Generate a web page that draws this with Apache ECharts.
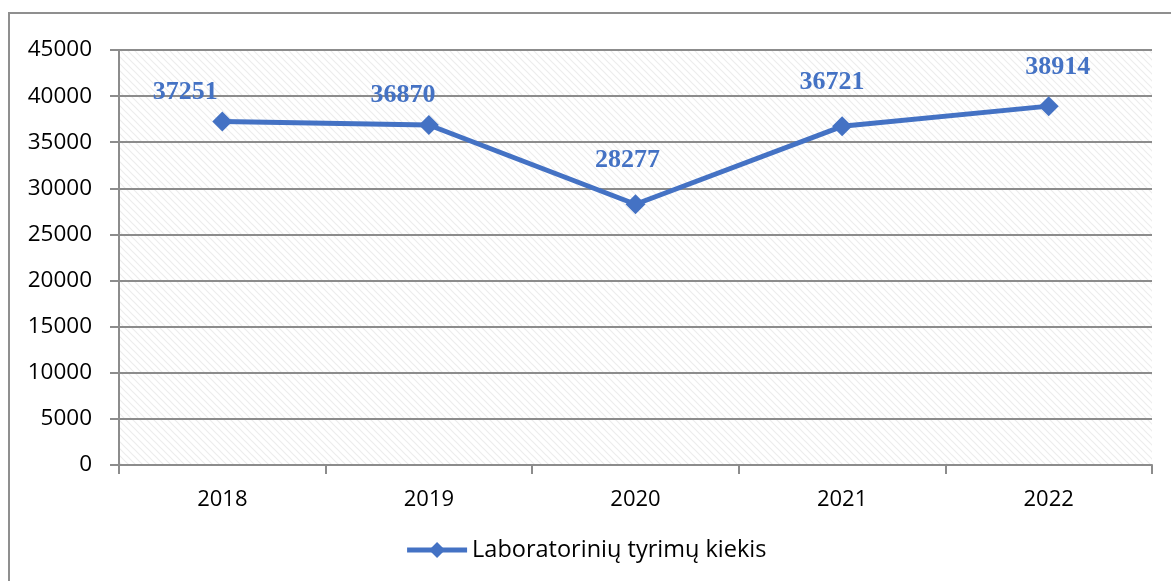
<!DOCTYPE html>
<html>
<head>
<meta charset="utf-8">
<script src="https://cdn.jsdelivr.net/npm/echarts@6/dist/echarts.min.js"></script>
<style>
  html, body { margin: 0; padding: 0; background: #fff; }
  #chart { width: 1171px; height: 581px; }
</style>
</head>
<body>
<div id="chart"></div>
<script>
// data
const years = ['2018', '2019', '2020', '2021', '2022'];
const values = [37251, 36870, 28277, 36721, 38914];
const seriesName = 'Laboratorinių tyrimų kiekis';
// hand placed label offsets (as in the original spreadsheet chart)
const labelOffsets = [[-37, -29], [-26, -30], [-8, -44], [-10, -44], [9, -39]];

const blue = '#4472C4';
const gray = '#8c8c8c';

// light diagonal hatch for the plot area
function hatch() {
  const c = document.createElement('canvas');
  c.width = 7; c.height = 7;
  const g = c.getContext('2d');
  g.fillStyle = '#ffffff';
  g.fillRect(0, 0, 7, 7);
  g.strokeStyle = '#ededed';
  g.lineWidth = 1.2;
  g.beginPath();
  g.moveTo(-2, -2); g.lineTo(9, 9);
  g.moveTo(-2, 5); g.lineTo(2, 9);
  g.moveTo(5, -2); g.lineTo(9, 2);
  g.stroke();
  return c;
}

let myChart = echarts.init(document.getElementById('chart'));
let option = {
  animation: false,
  backgroundColor: '#fff',
  graphic: [{
    type: 'rect',
    shape: { x: 9, y: 13, width: 1200, height: 620 },
    style: { fill: 'none', stroke: '#8f8f8f', lineWidth: 2 },
    silent: true
  }],
  grid: {
    left: 119, top: 50, right: 19, bottom: 116,
    show: true,
    borderWidth: 0,
    backgroundColor: { image: hatch(), repeat: 'repeat' }
  },
  legend: {
    bottom: 14,
    left: 'center',
    itemWidth: 60,
    itemHeight: 20,
    itemGap: 4,
    lineStyle: { width: 5 },
    textStyle: { fontFamily: 'Open Sans', fontSize: 23.5, color: '#000' },
    data: [seriesName]
  },
  xAxis: {
    type: 'category',
    data: years,
    boundaryGap: true,
    axisLine: { lineStyle: { color: gray, width: 2 } },
    axisTick: { show: true, length: 9, interval: 0, lineStyle: { color: gray, width: 2 } },
    axisLabel: { fontFamily: 'Open Sans', fontSize: 22, color: '#000', margin: 24 }
  },
  yAxis: {
    type: 'value',
    min: 0, max: 45000, interval: 5000,
    axisLine: { show: true, lineStyle: { color: gray, width: 2 } },
    axisTick: { show: true, length: 9, lineStyle: { color: gray, width: 2 } },
    splitLine: { lineStyle: { color: gray, width: 2 } },
    axisLabel: {
      fontFamily: 'Open Sans', fontSize: 22.5, color: '#000', margin: 27,
      formatter: v => String(v)
    }
  },
  series: [{
    name: seriesName,
    type: 'line',
    data: values.map((v, i) => ({
      value: v,
      label: { offset: labelOffsets[i] }
    })),
    symbol: 'diamond',
    symbolSize: 20,
    itemStyle: { color: blue },
    lineStyle: { color: blue, width: 5 },
    label: {
      show: true,
      position: 'inside',
      color: blue,
      fontFamily: 'Liberation Serif',
      fontWeight: 'bold',
      fontSize: 26
    }
  }]
};
myChart.setOption(option);
</script>
</body>
</html>
